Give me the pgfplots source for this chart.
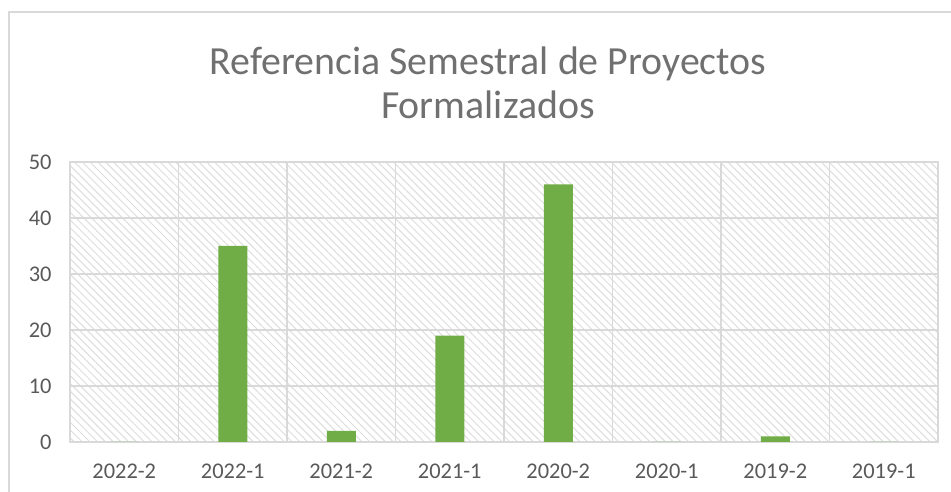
\documentclass[border=0pt]{standalone}
\usepackage{pgfplots}
\pgfplotsset{compat=1.18}
\usepackage{fontspec}
\setmainfont{Carlito}
\usetikzlibrary{patterns.meta}
\definecolor{bargreen}{HTML}{70AD47}
\definecolor{gridgray}{HTML}{D9D9D9}
\definecolor{txtgray}{HTML}{595959}
\definecolor{titlegray}{HTML}{707070}
\begin{document}
\begin{tikzpicture}[x=1bp,y=1bp]
    \path[use as bounding box] (0,0) rectangle (951,492);
    \draw[gridgray, line width=1.2bp] (9,0) -- (9,480) -- (951,480);
    \begin{axis}[
        at={(70bp,50bp)}, anchor=south west,
        scale only axis,
        width=868bp, height=280bp,
        ybar,
        bar width=29bp,
        xmin=-0.5, xmax=7.5,
        ymin=0, ymax=50,
        xtick=data,
        xticklabels={2022-2,2022-1,2021-2,2021-1,2020-2,2020-1,2019-2,2019-1},
        minor xtick={0.5,1.5,...,6.5},
        ytick={0,10,...,50},
        tick style={draw=none},
        minor tick style={draw=none},
        xmajorgrids=false,
        xminorgrids=true,
        ymajorgrids=true,
        grid style={gridgray, line width=1.5bp},
        minor grid style={gridgray, line width=1.5bp},
        axis line style={gridgray, line width=1.5bp},
        axis background/.style={pattern={Lines[angle=-45,distance=5.5bp,line width=1bp]}, pattern color=gridgray!90},
        ticklabel style={font=\fontsize{22.5}{26}\selectfont, text=txtgray},
        /pgf/number format/assume math mode=true,
        yticklabel style={xshift=-15bp},
        xticklabel style={yshift=-14bp},
    ]
        \addplot[fill=bargreen, draw=none] coordinates {(0,0) (1,35) (2,2) (3,19) (4,46) (5,0) (6,1) (7,0)};
    \end{axis}
    \node[text=titlegray, align=center, font=\fontsize{40}{44}\selectfont] at (488,409) {Referencia Semestral de Proyectos\\Formalizados};
\end{tikzpicture}
\end{document}
